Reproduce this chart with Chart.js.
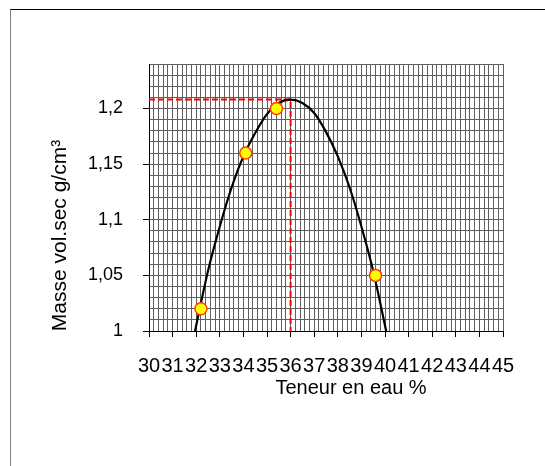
<!DOCTYPE html>
<html>
<head>
<meta charset="utf-8">
<script src="https://cdn.jsdelivr.net/npm/chart.js@4/dist/chart.umd.min.js"></script>
<style>
  html, body { margin: 0; padding: 0; background: #fff; }
  #wrap { position: relative; width: 545px; height: 466px; }
  #frame {
    position: absolute; left: 10px; top: 9px; right: 0; bottom: 0;
    border-top: 1px solid #000; border-left: 1px solid #7f7f7f;
    pointer-events: none;
  }
  canvas { position: absolute; left: 0; top: 0; }
</style>
</head>
<body>
<div id="wrap">
  <canvas id="myChart" width="545" height="466"></canvas>
  <div id="frame"></div>
</div>
<script>
// measured points (yellow markers)
var measX = [32.2, 34.1, 35.4, 39.6];
var measY = [1.02, 1.16, 1.20, 1.05];

// trend curve
var curveX = [31.95, 32.5, 33, 33.5, 34, 34.5, 35, 35.5, 36, 36.5, 37, 37.5, 38, 38.5, 39, 39.5, 40.1];
var curveY = [1.000, 1.054, 1.094, 1.129, 1.157, 1.178, 1.195, 1.205, 1.208, 1.205, 1.196, 1.179, 1.157, 1.129, 1.094, 1.054, 0.995];

// red dashed guide to the optimum
var guideX = [30, 36, 36];
var guideY = [1.208, 1.208, 1.0];

// axes
var xMin = 30, xMax = 45, xStep = 0.2;
var yMin = 1.0, yMax = 1.24, yStep = 0.01;

function pts(xs, ys) {
    return xs.map(function (x, i) { return {x: x, y: ys[i]}; });
}

var font = "'Liberation Sans', Arial, sans-serif";

// shift the axis titles the way the original sits them
var titleShift = {
    id: 'titleShift',
    beforeDraw: function (chart) {
        ['x', 'y'].forEach(function (id) {
            var s = chart.scales[id];
            if (s._shifted) return;
            s._shifted = true;
            var orig = s.drawTitle;
            s.drawTitle = function () {
                var ctx = this.ctx;
                ctx.save();
                if (id === 'x') ctx.translate(25, 0);
                else ctx.translate(0, 38);
                orig.apply(this, arguments);
                ctx.restore();
            };
        });
    }
};

var ctx = document.getElementById('myChart').getContext('2d');
var chart = new Chart(ctx, {
    type: 'scatter',
    data: {
        datasets: [{
            data: pts(measX, measY),
            showLine: false,
            pointRadius: 6,
            pointBackgroundColor: '#ffff00',
            pointBorderColor: '#ff3c00',
            pointBorderWidth: 1.5,
            order: 0
        }, {
            data: pts(curveX, curveY),
            showLine: true,
            borderColor: '#000',
            borderWidth: 2.2,
            tension: 0.3,
            pointRadius: 0,
            order: 1
        }, {
            data: pts(guideX, guideY),
            showLine: true,
            borderColor: '#ff0000',
            borderWidth: 2,
            borderDash: [6, 3],
            tension: 0,
            pointRadius: 0,
            order: 2
        }]
    },
    options: {
        responsive: false,
        animation: false,
        events: [],
        layout: {
            padding: {left: 10, top: 64, right: 42, bottom: 65}
        },
        plugins: {
            legend: {display: false},
            tooltip: {enabled: false}
        },
        scales: {
            x: {
                type: 'linear',
                min: xMin,
                max: xMax,
                afterFit: function (scale) { scale.height = 70; },
                grid: {
                    color: '#5f5f5f',
                    lineWidth: 1,
                    tickLength: 6,
                    tickColor: function (c) {
                        var v = c.tick.value;
                        return Math.abs(v - Math.round(v)) < 1e-6 ? '#000' : 'rgba(0,0,0,0)';
                    }
                },
                border: {color: '#000', width: 1},
                ticks: {
                    stepSize: xStep,
                    autoSkip: false,
                    maxRotation: 0,
                    minRotation: 0,
                    padding: 17,
                    color: '#000',
                    font: {family: font, size: 20},
                    callback: function (v) {
                        return Math.abs(v - Math.round(v)) < 1e-6 ? String(Math.round(v)) : '';
                    }
                },
                title: {
                    display: true,
                    text: 'Teneur en eau %',
                    color: '#000',
                    font: {family: font, size: 20},
                    padding: {top: 0, bottom: 1}
                }
            },
            y: {
                type: 'linear',
                min: yMin,
                max: yMax,
                afterFit: function (scale) { scale.width = 139; },
                grid: {
                    color: '#5f5f5f',
                    lineWidth: 1,
                    tickLength: 6,
                    tickColor: function (c) {
                        return Math.round(c.tick.value * 100) % 5 === 0 ? '#000' : 'rgba(0,0,0,0)';
                    }
                },
                border: {color: '#000', width: 1},
                ticks: {
                    stepSize: yStep,
                    autoSkip: false,
                    padding: 20,
                    color: '#000',
                    font: {family: font, size: 18},
                    callback: function (v) {
                        var c = Math.round(v * 100);
                        return c % 5 === 0 ? String(c / 100).replace('.', ',') : '';
                    }
                },
                title: {
                    display: true,
                    text: 'Masse vol.sec g/cm³',
                    color: '#000',
                    font: {family: font, size: 21},
                    padding: {top: 38, bottom: 0}
                }
            }
        }
    },
    plugins: [titleShift]
});
</script>
</body>
</html>
